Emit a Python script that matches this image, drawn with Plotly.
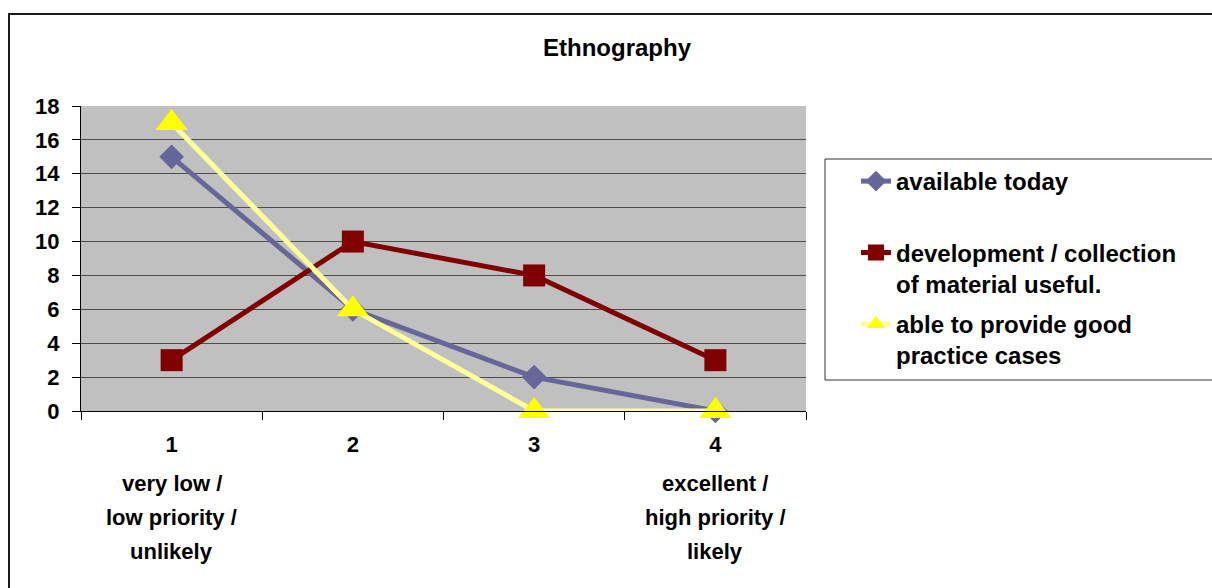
import plotly.graph_objects as go

# ---- data ----
categories = ["1", "2", "3", "4"]
available_today = [15, 6, 2, 0]
development_collection = [3, 10, 8, 3]
good_practice = [17, 6, 0, 0]
series_names = [
    "available today<br> ",
    "development / collection<br>of material useful.",
    "able to provide good<br>practice cases",
]
low_label_lines = ["very low /", "low priority /", "unlikely"]
high_label_lines = ["excellent /", "high priority /", "likely"]
y_ticks = [0, 2, 4, 6, 8, 10, 12, 14, 16, 18]
title_text = "Ethnography"

FONT = "Liberation Sans, Arial, sans-serif"
W, H = 1212, 588
L, R, T, B = 81, 406, 106, 177
PW = W - L - R
PH = H - T - B


def px_x(x):
    return (x - L) / PW


def px_y(y):
    return (H - B - y) / PH


fig = go.Figure()
fig.add_trace(go.Scatter(
    x=categories, y=available_today, name=series_names[0], legendgroup="a",
    mode="lines+markers", cliponaxis=False,
    line=dict(color="#666699", width=5),
    marker=dict(symbol="diamond", size=19, color="#666699"),
))
fig.add_trace(go.Scatter(
    x=categories, y=development_collection, name=series_names[1], legendgroup="b",
    mode="lines+markers", cliponaxis=False,
    line=dict(color="#800000", width=5),
    marker=dict(symbol="square", size=22, color="#800000"),
))
fig.add_trace(go.Scatter(
    x=categories, y=good_practice, name=series_names[2], legendgroup="c",
    mode="lines+markers", cliponaxis=False,
    line=dict(color="#FFFF99", width=5),
    marker=dict(symbol="triangle-up", size=28, color="#FFFF00"),
))

annotations = []
label_font = dict(family=FONT, size=22, color="black", weight="bold")
for idx, lines in ((0, low_label_lines), (len(categories) - 1, high_label_lines)):
    for i, line in enumerate(lines):
        annotations.append(dict(
            x=idx, xref="x", y=px_y(483 + 34 * i), yref="paper",
            text=line, showarrow=False, yanchor="middle", xanchor="center",
            font=label_font,
        ))

shapes = [
    # outer chart border
    dict(type="rect", xref="paper", yref="paper",
         x0=px_x(9), x1=px_x(W + 20), y0=px_y(H + 20), y1=px_y(14),
         line=dict(color="#1a1a1a", width=2), fillcolor="rgba(0,0,0,0)", layer="below"),
    # legend border
    dict(type="rect", xref="paper", yref="paper",
         x0=px_x(825), x1=px_x(W + 20), y0=px_y(380), y1=px_y(159),
         line=dict(color="#333333", width=1), fillcolor="rgba(0,0,0,0)", layer="below"),
]

fig.update_layout(
    width=W, height=H,
    margin=dict(l=L, r=R, t=T, b=B, pad=0),
    paper_bgcolor="white",
    plot_bgcolor="#C0C0C0",
    font=dict(family=FONT, color="black"),
    title=dict(
        text=title_text, x=px_x(617), xref="paper", xanchor="center",
        y=1 - 48 / H, yref="container", yanchor="middle",
        font=dict(family=FONT, size=24, color="black", weight="bold"),
    ),
    xaxis=dict(
        type="category", categoryorder="array", categoryarray=categories,
        range=[-0.5, 3.5], tickson="boundaries",
        ticks="outside", ticklen=8, tickcolor="black", tickwidth=1,
        showline=True, linecolor="black", linewidth=1,
        showgrid=False, zeroline=False,
        tickfont=dict(family=FONT, size=22, color="black", weight="bold"),
        ticklabelstandoff=14,
        fixedrange=True,
    ),
    yaxis=dict(
        range=[0, 18], tickvals=y_ticks,
        ticks="outside", ticklen=8, tickcolor="black", tickwidth=1,
        showline=True, linecolor="black", linewidth=1,
        showgrid=True, gridcolor="#4d4d4d", gridwidth=1,
        zeroline=False,
        tickfont=dict(family=FONT, size=22, color="black", weight="bold"),
        ticklabelstandoff=8,
        fixedrange=True,
    ),
    showlegend=True,
    legend=dict(
        x=px_x(856), y=px_y(159), xanchor="left", yanchor="top",
        xref="paper", yref="paper",
        bgcolor="rgba(0,0,0,0)", borderwidth=0,
        traceorder="grouped", tracegroupgap=6, valign="top",
        font=dict(family=FONT, size=24, color="black", weight="bold"),
    ),
    annotations=annotations,
    shapes=shapes,
)

fig.write_html("out.html")
